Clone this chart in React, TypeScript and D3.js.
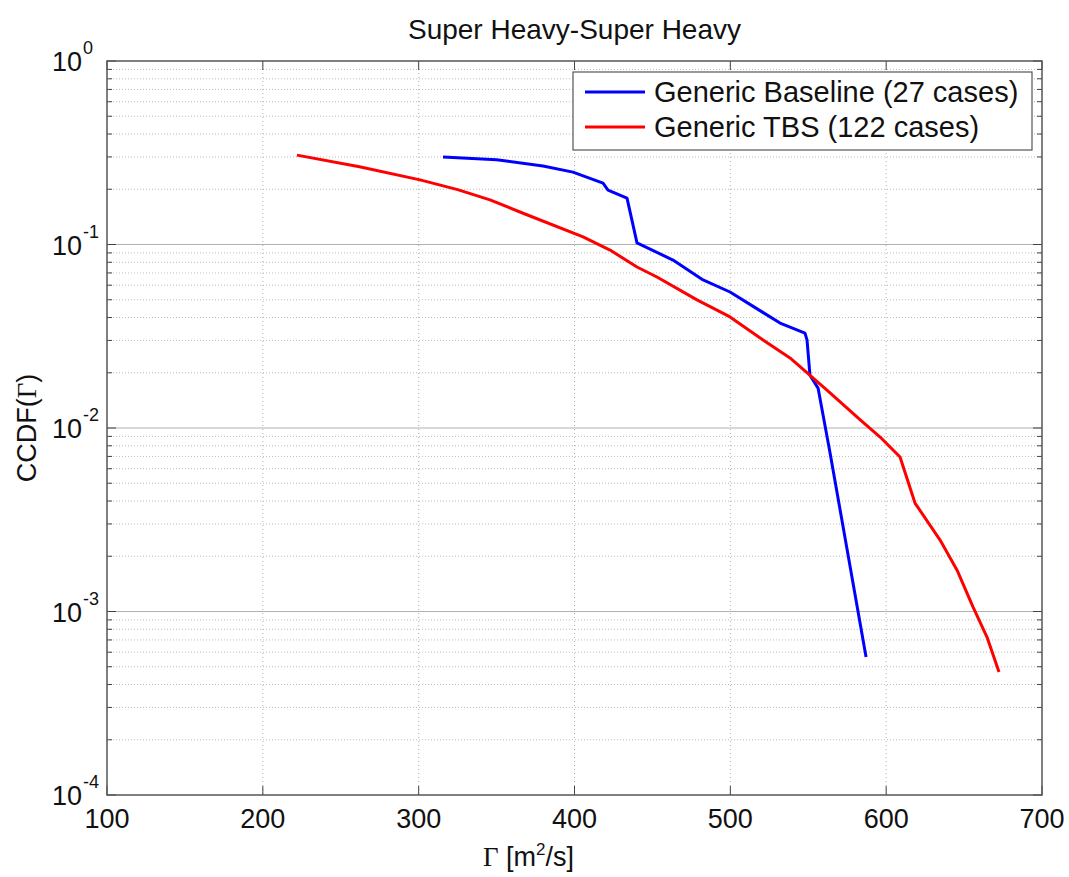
import React from "react";
import * as d3 from "d3";

const title = "Super Heavy-Super Heavy";
const seriesNames = ["Generic Baseline (27 cases)", "Generic TBS (122 cases)"];
const seriesColors = ["#0000ff", "#ff0000"];

const baselineX = [315.6, 350.0, 379.8, 399.0, 418.3, 421.5, 433.7, 440.1, 463.2, 482.5, 499.8, 531.9, 547.9, 549.2, 551.1, 556.3, 564.0, 587.1];
const baselineY = [0.300, 0.290, 0.268, 0.248, 0.216, 0.198, 0.179, 0.102, 0.0823, 0.0641, 0.0551, 0.0373, 0.0329, 0.0302, 0.0194, 0.0165, 0.00731, 0.000565];

const tbsX = [221.9, 262.0, 300.9, 325.0, 345.8, 367.0, 405.5, 422.8, 440.1, 452.9, 478.6, 499.8, 521.0, 538.3, 562.0, 583.2, 596.1, 608.9, 618.5, 634.6, 645.5, 655.7, 664.7, 672.4];
const tbsY = [0.307, 0.265, 0.225, 0.199, 0.175, 0.148, 0.110, 0.0933, 0.0754, 0.0665, 0.0499, 0.0403, 0.0302, 0.0241, 0.0161, 0.0111, 0.00893, 0.00695, 0.00390, 0.00245, 0.00168, 0.00106, 0.000726, 0.000468];

const xTicks = [100, 200, 300, 400, 500, 600, 700];
const yExponents = [0, -1, -2, -3, -4];

const W = 1069, H = 877;
const L = 107, R = 1042, T = 61, B = 795;
const FONT = "'Liberation Sans', Arial, sans-serif";

export default function App() {
  const x = d3.scaleLinear().domain([100, 700]).range([L, R]);
  const y = d3.scaleLog().domain([1e-4, 1]).range([B, T]);

  const minorVals: number[] = [];
  for (let e = -4; e < 0; e++) for (let m = 2; m <= 9; m++) minorVals.push(m * Math.pow(10, e));

  const line = d3.line<[number, number]>().x(d => x(d[0])).y(d => y(d[1]));
  const series = [
    baselineX.map((v, i) => [v, baselineY[i]] as [number, number]),
    tbsX.map((v, i) => [v, tbsY[i]] as [number, number]),
  ];

  return (
    <div style={{ position: "absolute", left: 0, top: 0 }}>
      <svg width={W} height={H} style={{ display: "block", background: "#fff" }}>
        <rect x={0} y={0} width={W} height={H} fill="#fff" />
        {/* grid */}
        {minorVals.map((v, i) => (
          <line key={"mg" + i} x1={L} x2={R} y1={y(v)} y2={y(v)} stroke="#bdbdbd" strokeWidth={1} strokeDasharray="1,2" />
        ))}
        {yExponents.slice(1, 4).map(e => (
          <line key={"Mg" + e} x1={L} x2={R} y1={y(Math.pow(10, e))} y2={y(Math.pow(10, e))} stroke="#b0b0b0" strokeWidth={1} />
        ))}
        {xTicks.slice(1, -1).map(t => (
          <line key={"xg" + t} x1={x(t)} x2={x(t)} y1={T} y2={B} stroke="#b0b0b0" strokeWidth={1} strokeDasharray="1,3" />
        ))}
        {/* ticks */}
        {xTicks.map(t => (
          <g key={"xt" + t}>
            <line x1={x(t)} x2={x(t)} y1={B} y2={B - 9} stroke="#444" />
            <line x1={x(t)} x2={x(t)} y1={T} y2={T + 9} stroke="#444" />
          </g>
        ))}
        {yExponents.map(e => (
          <g key={"yt" + e}>
            <line x1={L} x2={L + 9} y1={y(Math.pow(10, e))} y2={y(Math.pow(10, e))} stroke="#444" />
            <line x1={R} x2={R - 9} y1={y(Math.pow(10, e))} y2={y(Math.pow(10, e))} stroke="#444" />
          </g>
        ))}
        {minorVals.map((v, i) => (
          <g key={"ymt" + i}>
            <line x1={L} x2={L + 5} y1={y(v)} y2={y(v)} stroke="#444" />
            <line x1={R} x2={R - 5} y1={y(v)} y2={y(v)} stroke="#444" />
          </g>
        ))}
        {/* series */}
        {series.map((s, i) => (
          <path key={"s" + i} d={line(s) || ""} fill="none" stroke={seriesColors[i]} strokeWidth={3} strokeLinejoin="round" />
        ))}
        {/* frame */}
        <rect x={L} y={T} width={R - L} height={B - T} fill="none" stroke="#555" strokeWidth={1.5} />
        {/* x tick labels */}
        {xTicks.map(t => (
          <text key={"xl" + t} x={x(t)} y={828} textAnchor="middle" fontFamily={FONT} fontSize={27} fill="#111">{t}</text>
        ))}
        {/* y tick labels */}
        {yExponents.map(e => (
          <g key={"yl" + e}>
            <text x={82} y={y(Math.pow(10, e)) + 10} textAnchor="end" fontFamily={FONT} fontSize={27} fill="#111">10</text>
            <text x={83} y={y(Math.pow(10, e)) - 7} textAnchor="start" fontFamily={FONT} fontSize={18} fill="#111">{e}</text>
          </g>
        ))}
        {/* title */}
        <text x={(L + R) / 2} y={39} textAnchor="middle" fontFamily={FONT} fontSize={28} fill="#111">{title}</text>
        {/* axis labels */}
        <text x={483} y={866} fontFamily={FONT} fontSize={27} fill="#111">
          <tspan fontFamily="'Liberation Serif', 'Times New Roman', serif">Γ</tspan>
          <tspan> [m</tspan>
          <tspan fontSize={17} dy={-11}>2</tspan>
          <tspan dy={11}>/s]</tspan>
        </text>
        <text transform={`translate(36, ${(T + B) / 2}) rotate(-90)`} textAnchor="middle" fontFamily={FONT} fontSize={27} fill="#111">
          CCDF(<tspan fontFamily="'Liberation Serif', 'Times New Roman', serif">Γ</tspan>)
        </text>
        {/* legend */}
        <rect x={573} y={72} width={459} height={78} fill="#fff" stroke="#555" strokeWidth={1.2} />
        {seriesNames.map((n, i) => (
          <g key={"lg" + i}>
            <line x1={585} x2={645} y1={92 + i * 35} y2={92 + i * 35} stroke={seriesColors[i]} strokeWidth={3} />
            <text x={654} y={102 + i * 35} fontFamily={FONT} fontSize={29} fill="#111">{n}</text>
          </g>
        ))}
      </svg>
    </div>
  );
}
